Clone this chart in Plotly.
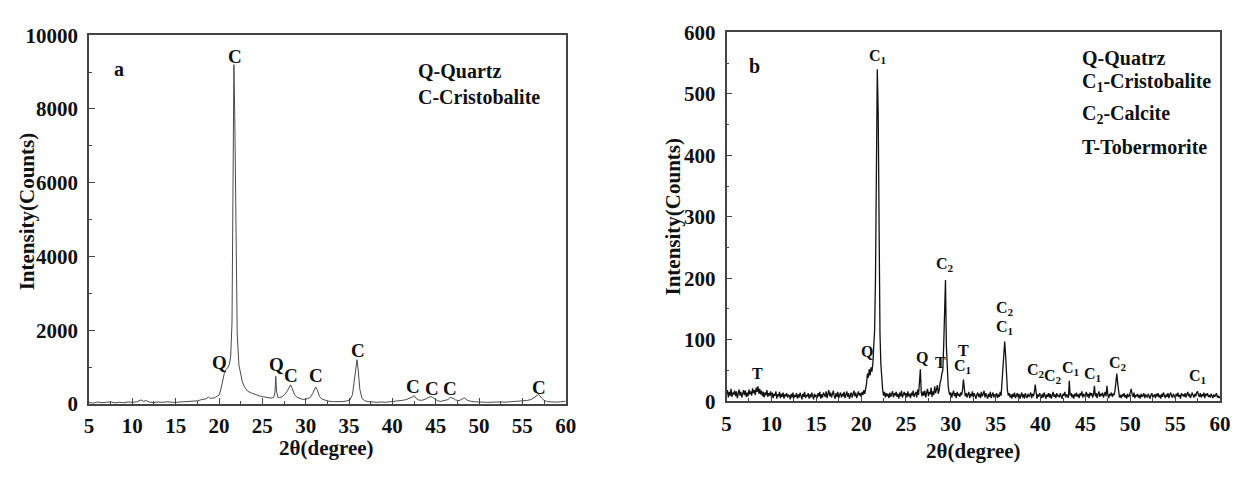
import plotly.graph_objects as go

# ---------------- Panel a data (2theta, counts) ----------------
a_x = [5.0, 5.5, 6.0, 6.5, 7.0, 7.5, 8.0, 8.5, 9.0, 9.5, 10.0, 10.5, 11.0, 11.3, 11.6, 12.0, 12.5,
       13.0, 13.5, 14.0, 14.5, 15.0, 15.5, 16.0, 16.5, 17.0, 17.5, 18.0, 18.5, 18.8, 19.0, 19.5,
       19.8, 20.0, 20.2, 20.4, 20.6, 20.8, 21.0, 21.2, 21.35, 21.5, 21.62, 21.72, 21.82, 21.95,
       22.1, 22.3, 22.5, 22.7, 22.9, 23.1, 23.3, 23.6, 23.9, 24.2, 24.5, 24.8, 25.1, 25.4, 25.7,
       26.0, 26.3, 26.45, 26.55, 26.65, 26.8, 27.0, 27.3, 27.6, 27.9, 28.1, 28.25, 28.45, 28.7,
       29.0, 29.3, 29.6, 29.9, 30.2, 30.5, 30.8, 31.0, 31.15, 31.35, 31.6, 31.9, 32.3, 32.7,
       33.2, 33.7, 34.2, 34.7, 35.1, 35.4, 35.6, 35.8, 35.92, 36.05, 36.25, 36.5, 36.8, 37.2,
       37.7, 38.2, 38.7, 39.2, 39.7, 40.2, 40.7, 41.2, 41.6, 42.0, 42.3, 42.5, 42.7, 43.0, 43.4,
       43.8, 44.1, 44.4, 44.6, 44.9, 45.2, 45.6, 46.0, 46.4, 46.7, 47.0, 47.3, 47.7, 48.1, 48.3,
       48.6, 49.0, 49.5, 50.0, 50.5, 51.0, 51.5, 52.0, 52.5, 53.0, 53.5, 54.0, 54.5, 55.0, 55.5,
       56.0, 56.3, 56.6, 56.9, 57.2, 57.5, 57.9, 58.4, 58.9, 59.4, 60.0]
a_y = [40, 25, 55, 35, 45, 60, 30, 50, 35, 55, 45, 60, 110, 70, 95, 50, 40,
       55, 45, 60, 50, 40, 55, 60, 75, 90, 85, 120, 140, 190, 150, 170,
       210, 240, 380, 600, 820, 930, 980, 1080, 1300, 2200, 6000, 9200, 7800, 4200,
       1900, 1050, 780, 600, 480, 400, 350, 310, 280, 250, 230, 210, 195, 185, 170,
       160, 175, 300, 750, 320, 180, 175, 200, 260, 360, 480, 520, 420, 260,
       180, 150, 130, 120, 140, 170, 280, 400, 460, 380, 200, 130, 95, 75,
       65, 60, 65, 80, 110, 250, 600, 1050, 1200, 950, 400, 150, 90, 65,
       50, 45, 55, 45, 60, 70, 85, 100, 120, 150, 190, 230, 160, 110, 100,
       130, 170, 200, 190, 130, 90, 70, 85, 120, 180, 160, 110, 90, 140, 170,
       110, 75, 60, 50, 55, 45, 50, 60, 55, 50, 60, 55, 70, 80, 95,
       120, 160, 210, 260, 170, 100, 65, 55, 50, 60, 75]

# ---------------- Panel b data: counts every 0.1 degree from 5.0 to 60.0 ----------------
b_start, b_step = 5.0, 0.1
b_y = [
    12, 18, 6, 15, 9, 20, 7, 14, 11, 17,      # 5
    8, 16, 5, 13, 19, 9, 15, 6, 12, 18,       # 6
    10, 17, 7, 14, 8, 19, 11, 16, 9, 21,      # 7
    13, 18, 10, 22, 15, 24, 12, 20, 11, 17,   # 8
    8, 15, 6, 14, 10, 18, 7, 13, 9, 16,       # 9
    6, 14, 5, 12, 9, 16, 4, 11, 8, 15,        # 10
    5, 12, 7, 14, 4, 11, 8, 13, 6, 10,        # 11
    9, 3, 12, 6, 14, 5, 10, 7, 13, 4,         # 12
    11, 6, 14, 8, 3, 12, 7, 15, 5, 10,        # 13
    8, 13, 4, 11, 6, 14, 9, 3, 12, 7,         # 14
    10, 5, 13, 8, 15, 4, 11, 6, 14, 9,        # 15
    7, 16, 5, 12, 18, 8, 14, 6, 11, 17,       # 16
    9, 4, 13, 7, 15, 5, 10, 14, 6, 12,        # 17
    8, 15, 5, 11, 16, 7, 13, 4, 10, 14,       # 18
    6, 12, 17, 8, 14, 5, 11, 16, 9, 13,       # 19
    7, 15, 10, 18, 12, 20, 28, 45, 38, 52,    # 20
    42, 55, 48, 60, 90, 115, 200, 420, 540, 470,  # 21
    250, 110, 60, 30, 18, 9, 15, 6, 13, 8,    # 22
    12, 5, 14, 7, 11, 16, 6, 13, 9, 15,       # 23
    7, 12, 4, 14, 8, 17, 6, 11, 15, 9,        # 24
    13, 6, 16, 8, 12, 5, 14, 9, 17, 7,        # 25
    11, 15, 6, 19, 10, 25, 52, 14, 8, 16,     # 26
    9, 17, 6, 14, 20, 8, 15, 11, 22, 7,       # 27
    16, 10, 24, 13, 19, 26, 12, 18, 30, 35,   # 28
    45, 50, 90, 150, 197, 90, 40, 25, 14, 10, # 29
    14, 6, 12, 17, 8, 13, 5, 15, 9, 12,       # 30
    7, 14, 10, 18, 35, 16, 8, 13, 6, 11,      # 31
    15, 5, 12, 8, 16, 6, 13, 9, 4, 11,        # 32
    14, 7, 12, 5, 15, 8, 11, 17, 6, 13,       # 33
    9, 4, 12, 7, 15, 5, 10, 14, 6, 11,        # 34
    8, 13, 5, 11, 7, 15, 9, 30, 50, 80,       # 35
    97, 75, 40, 18, 9, 13, 6, 11, 4, 12,      # 36
    7, 14, 5, 10, 13, 6, 12, 4, 9, 14,        # 37
    6, 11, 4, 13, 8, 5, 12, 7, 10, 14,        # 38
    5, 12, 8, 14, 27, 9, 4, 11, 7, 13,        # 39
    9, 5, 12, 6, 14, 8, 4, 11, 7, 13,         # 40
    6, 12, 4, 10, 15, 7, 11, 5, 13, 8,        # 41
    10, 6, 13, 8, 4, 12, 9, 15, 6, 11,        # 42
    8, 5, 33, 9, 13, 6, 11, 4, 12, 8,         # 43
    14, 7, 11, 5, 13, 9, 16, 6, 12, 8,        # 44
    10, 15, 7, 12, 5, 14, 9, 13, 6, 11,       # 45
    25, 8, 13, 5, 11, 16, 7, 12, 9, 14,       # 46
    6, 11, 15, 8, 25, 10, 5, 12, 9, 14,       # 47
    7, 12, 10, 18, 30, 45, 28, 12, 6, 10,     # 48
    5, 11, 8, 13, 6, 10, 4, 12, 7, 9,         # 49
    13, 20, 11, 7, 14, 5, 10, 8, 12, 6,       # 50
    10, 4, 12, 7, 9, 13, 5, 11, 8, 6,         # 51
    12, 7, 4, 10, 13, 6, 9, 11, 5, 12,        # 52
    8, 13, 6, 10, 4, 12, 7, 14, 9, 5,         # 53
    11, 7, 13, 5, 10, 14, 8, 6, 12, 9,        # 54
    5, 12, 8, 14, 7, 10, 4, 13, 9, 11,        # 55
    7, 13, 6, 11, 15, 8, 12, 5, 10, 14,       # 56
    9, 6, 12, 8, 14, 16, 10, 7, 13, 6,        # 57
    11, 8, 14, 5, 12, 9, 13, 7, 10, 6,        # 58
    12, 8, 5, 11, 7, 10, 13, 6, 9, 5,         # 59
    8,                                        # 60
]
b_x = [round(b_start + b_step * i, 2) for i in range(len(b_y))]

# ---------------- Peak labels ----------------
a_lab_x = [21.8, 20.0, 26.6, 28.35, 31.2, 36.0, 42.4, 44.6, 46.7, 56.9]
a_lab_y = [9420, 1130, 1070, 770, 770, 1455, 470, 410, 410, 445]
a_lab_t = ["C", "Q", "Q", "C", "C", "C", "C", "C", "C", "C"]

b_lab_x = [8.5, 20.65, 21.9, 26.8, 28.9, 29.4, 31.4, 31.4, 36.05, 36.05, 39.45, 41.4, 43.4, 45.8, 48.6, 57.5]
b_lab_y = [45, 80, 561, 71, 63, 222, 83, 56, 150, 120, 50, 40, 53, 44, 61, 40]
b_lab_t = ["T", "Q", "C<sub>1</sub>", "Q", "T", "C<sub>2</sub>", "T", "C<sub>1</sub>",
           "C<sub>2</sub>", "C<sub>1</sub>", "C<sub>2</sub>", "C<sub>2</sub>", "C<sub>1</sub>",
           "C<sub>1</sub>", "C<sub>2</sub>", "C<sub>1</sub>"]

a_legend = ["Q-Quartz", "C-Cristobalite"]
a_legend_y = [9030, 8320]
b_legend = ["Q-Quatrz", "C<sub>1</sub>-Cristobalite", "C<sub>2</sub>-Calcite", "T-Tobermorite"]
b_legend_y = [558, 518, 467, 413]

x_ticks = [5, 10, 15, 20, 25, 30, 35, 40, 45, 50, 55, 60]
a_y_ticks = [0, 2000, 4000, 6000, 8000, 10000]
b_y_ticks = [0, 100, 200, 300, 400, 500, 600]

# ---------------- Figure ----------------
# The page body has an 8px default margin, so the figure is sized to fit inside it
# and every reference pixel position is shifted by that margin.
VW, VH, BODY = 1241, 479, 8
W, H = VW - 2 * BODY, VH - 2 * BODY
FONT = "Liberation Serif"

def px(x):
    return (x - BODY) / W

def py(y):
    return 1 - (y - BODY) / H

fig = go.Figure()
fig.add_trace(go.Scatter(x=a_x, y=a_y, mode="lines", xaxis="x", yaxis="y",
                         line=dict(color="#4a4a4a", width=1), showlegend=False, hoverinfo="skip"))
fig.add_trace(go.Scatter(x=b_x, y=b_y, mode="lines", xaxis="x2", yaxis="y2",
                         line=dict(color="#111111", width=1.3), showlegend=False, hoverinfo="skip"))

tickfont = dict(family=FONT, size=21, color="#111", weight="bold")
axis_common = dict(showline=True, mirror=True, linecolor="#444", linewidth=1.5,
                   ticks="inside", ticklen=6, tickwidth=1.2, tickcolor="#444",
                   showgrid=False, zeroline=False, tickfont=tickfont)

fig.update_layout(
    width=W, height=H, margin=dict(l=0, r=0, t=0, b=0),
    paper_bgcolor="white", plot_bgcolor="white",
    xaxis=dict(domain=[px(85), px(568)], range=[5, 60], tickvals=x_ticks,
               ticktext=[str(v) for v in x_ticks], anchor="y", ticklabelstandoff=2,
               minor=dict(ticks="inside", ticklen=3, dtick=2.5, tick0=5, tickcolor="#444"),
               **axis_common),
    yaxis=dict(domain=[py(413), py(24)], range=[0, 10000], tickvals=a_y_ticks,
               ticktext=[str(v) for v in a_y_ticks], anchor="x", ticklabelstandoff=5,
               minor=dict(ticks="inside", ticklen=3, dtick=1000, tick0=0, tickcolor="#444"),
               **axis_common),
    xaxis2=dict(domain=[px(731), px(1231)], range=[5, 60], tickvals=x_ticks,
                ticktext=[str(v) for v in x_ticks], anchor="y2", ticklabelstandoff=3,
                minor=dict(ticks="inside", ticklen=3, dtick=2.5, tick0=5, tickcolor="#444"),
                **axis_common),
    yaxis2=dict(domain=[py(410), py(21)], range=[0, 600], tickvals=b_y_ticks,
                ticktext=[str(v) for v in b_y_ticks], anchor="x2", ticklabelstandoff=5,
                minor=dict(ticks="inside", ticklen=3, dtick=50, tick0=0, tickcolor="#444"),
                **axis_common),
)

ann = []
lab_font_a = dict(family=FONT, size=19, color="#111", weight="bold")
lab_font_b = dict(family=FONT, size=16, color="#111", weight="bold")
for x, y, t in zip(a_lab_x, a_lab_y, a_lab_t):
    ann.append(dict(x=x, y=y, xref="x", yref="y", text=t, showarrow=False, font=lab_font_a,
                    xanchor="center", yanchor="middle"))
for x, y, t in zip(b_lab_x, b_lab_y, b_lab_t):
    ann.append(dict(x=x, y=y, xref="x2", yref="y2", text=t, showarrow=False, font=lab_font_b,
                    xanchor="center", yanchor="middle"))

leg_font = dict(family=FONT, size=20, color="#111", weight="bold")
for t, y in zip(a_legend, a_legend_y):
    ann.append(dict(x=42.7, y=y, xref="x", yref="y", text=t, showarrow=False,
                    xanchor="left", yanchor="middle", font=leg_font))
for t, y in zip(b_legend, b_legend_y):
    ann.append(dict(x=44.4, y=y, xref="x2", yref="y2", text=t, showarrow=False,
                    xanchor="left", yanchor="middle", font=leg_font))

ann.append(dict(x=8.5, y=9075, xref="x", yref="y", text="a", showarrow=False, font=leg_font,
                xanchor="center", yanchor="middle"))
ann.append(dict(x=8.1, y=545, xref="x2", yref="y2", text="b", showarrow=False, font=leg_font,
                xanchor="center", yanchor="middle"))

title_font = dict(family=FONT, size=21, color="#111", weight="bold")
ann.append(dict(x=px(326), y=py(459), xref="paper", yref="paper", text="2θ(degree)",
                showarrow=False, font=title_font, xanchor="center", yanchor="middle"))
ann.append(dict(x=px(981), y=py(463), xref="paper", yref="paper", text="2θ(degree)",
                showarrow=False, font=title_font, xanchor="center", yanchor="middle"))
ann.append(dict(x=px(22), y=py(210), xref="paper", yref="paper", text="Intensity(Counts)",
                showarrow=False, textangle=-90, font=title_font, xanchor="center", yanchor="middle"))
ann.append(dict(x=px(677), y=py(215), xref="paper", yref="paper", text="Intensity(Counts)",
                showarrow=False, textangle=-90, font=title_font, xanchor="center", yanchor="middle"))

fig.update_layout(annotations=ann)
fig.write_html("out.html")
